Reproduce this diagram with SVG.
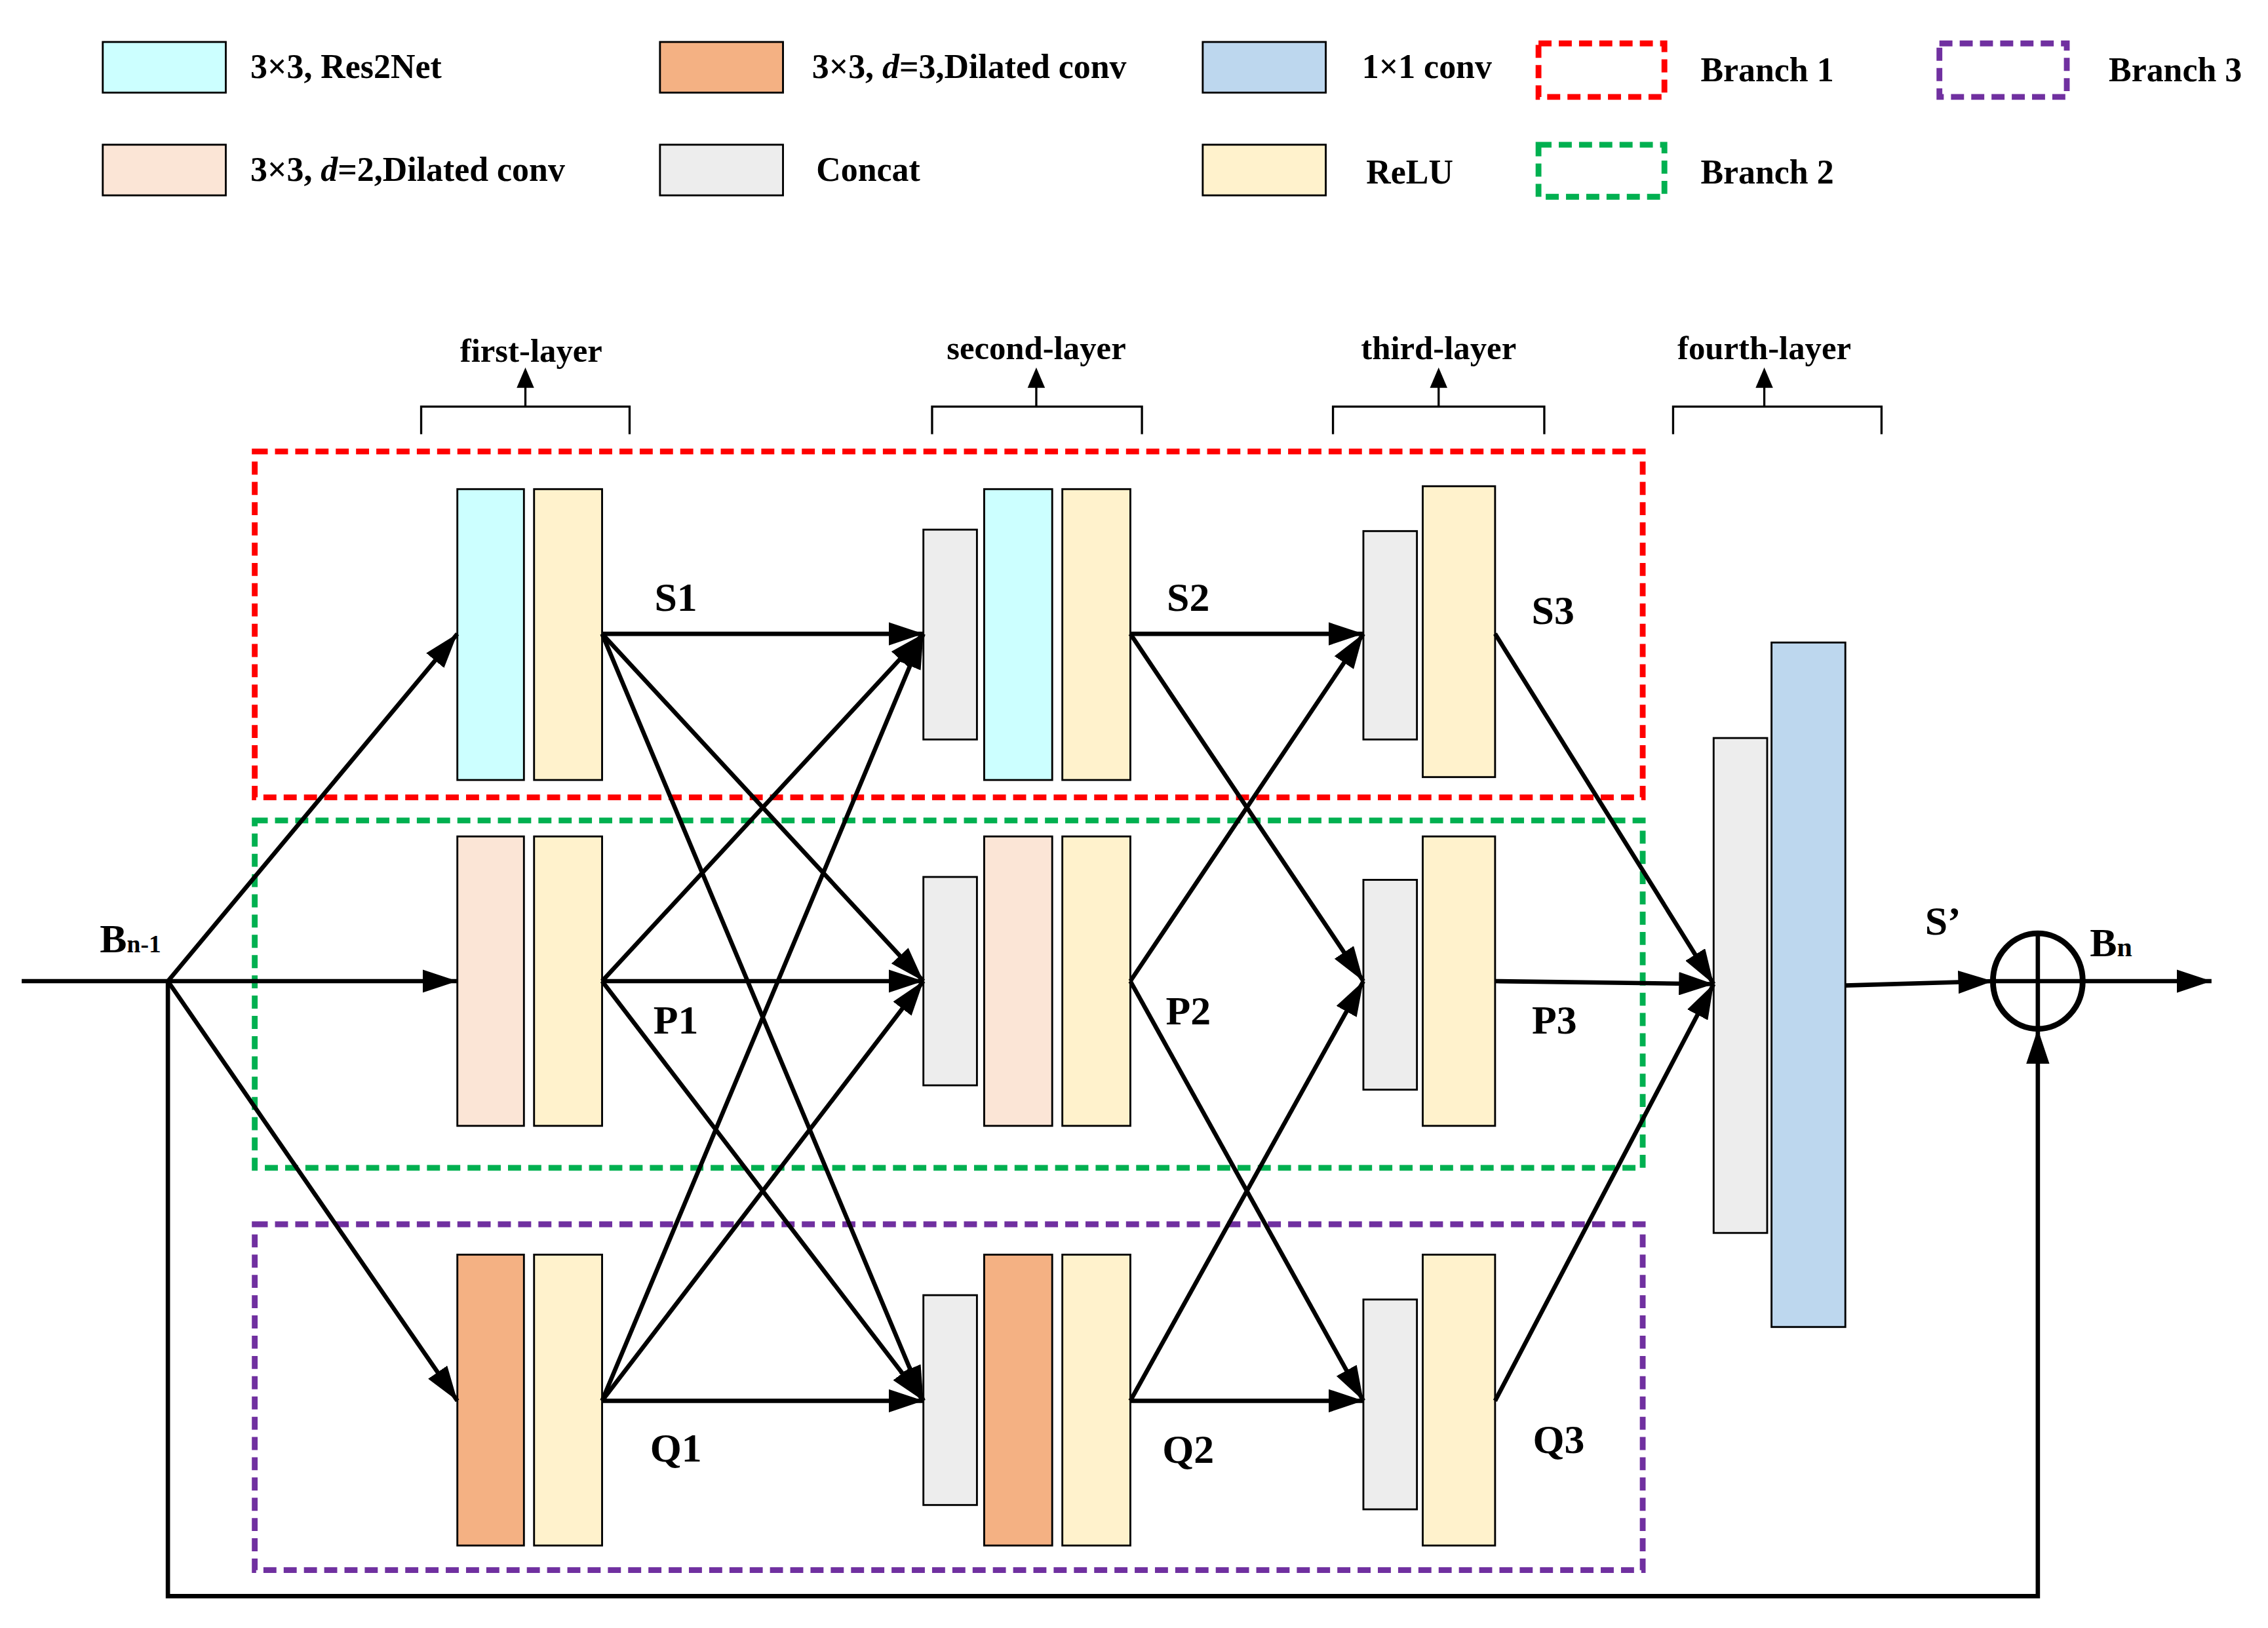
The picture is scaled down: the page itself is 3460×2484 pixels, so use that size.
<svg xmlns="http://www.w3.org/2000/svg" width="3460" height="2484" viewBox="0 0 3460 2484">
<style>
text{font-family:"Liberation Serif",serif;font-weight:bold;fill:#000}
.lg{font-size:23.5px}
.lb{font-size:28px}
.ly{font-size:23px}
.b{stroke:#000;stroke-width:1.3}
.cy{fill:#CCFFFF}.pe{fill:#FBE5D6}.or{fill:#F4B183}.gr{fill:#EDEDED}.re{fill:#FFF2CC}.bl{fill:#BDD7EE}
.dr{fill:none;stroke:#FF0000;stroke-width:4;stroke-dasharray:9 5}
.dg{fill:none;stroke:#00B050;stroke-width:4;stroke-dasharray:9 5}
.dp{fill:none;stroke:#7030A0;stroke-width:4;stroke-dasharray:9 5}
.c{fill:none;stroke:#000;stroke-width:3;marker-end:url(#ah)}
.n{fill:none;stroke:#000;stroke-width:3}
.k{fill:none;stroke:#000;stroke-width:1.5}
</style>
<defs>
<marker id="ah" markerUnits="userSpaceOnUse" markerWidth="26" markerHeight="16" refX="24" refY="8" orient="auto">
<path d="M0,0 L24,8 L0,16 Z" fill="#000"/>
</marker>
</defs>
<rect width="3460" height="2484" fill="#fff"/>
<g transform="scale(2.208,2.208)">
<g id="legend">
<rect class="b cy" x="71" y="29" width="85" height="35"/><text class="lg" x="173" y="54">3×3, Res2Net</text>
<rect class="b or" x="456" y="29" width="85" height="35"/><text class="lg" x="561" y="54">3×3, <tspan font-style="italic">d</tspan>=3,Dilated conv</text>
<rect class="b bl" x="831" y="29" width="85" height="35"/><text class="lg" x="941" y="54">1×1 conv</text>
<rect class="dr" x="1063" y="30" width="87" height="37"/><text class="lg" x="1175" y="56">Branch 1</text>
<rect class="dp" x="1340" y="30" width="88" height="37"/><text class="lg" x="1457" y="56">Branch 3</text>
<rect class="b pe" x="71" y="100" width="85" height="35"/><text class="lg" x="173" y="125">3×3, <tspan font-style="italic">d</tspan>=2,Dilated conv</text>
<rect class="b gr" x="456" y="100" width="85" height="35"/><text class="lg" x="564" y="125">Concat</text>
<rect class="b re" x="831" y="100" width="85" height="35"/><text class="lg" x="944" y="127">ReLU</text>
<rect class="dg" x="1063" y="100" width="87" height="36"/><text class="lg" x="1175" y="127">Branch 2</text>
</g>
<g id="layer-labels">
<text class="ly" x="367" y="250" text-anchor="middle">first-layer</text>
<text class="ly" x="716" y="248" text-anchor="middle">second-layer</text>
<text class="ly" x="994" y="248" text-anchor="middle">third-layer</text>
<text class="ly" x="1219" y="248" text-anchor="middle">fourth-layer</text>
<path class="k" d="M291,300 V281 H435 V300 M644,300 V281 H789 V300 M921,300 V281 H1067 V300 M1156,300 V281 H1300 V300"/>
<g fill="#000">
<path d="M363,281 V264" stroke="#000" stroke-width="1.5"/><path d="M357,268 L363,254 L369,268 Z"/>
<path d="M716,281 V264" stroke="#000" stroke-width="1.5"/><path d="M710,268 L716,254 L722,268 Z"/>
<path d="M994,281 V264" stroke="#000" stroke-width="1.5"/><path d="M988,268 L994,254 L1000,268 Z"/>
<path d="M1219,281 V264" stroke="#000" stroke-width="1.5"/><path d="M1213,268 L1219,254 L1225,268 Z"/>
</g>
</g>
<g id="branch1"><rect class="dr" x="176" y="312" width="959" height="239"/></g>
<g id="branch2"><rect class="dg" x="176" y="567" width="959" height="240"/></g>
<g id="branch3"><rect class="dp" x="176" y="846" width="959" height="239"/></g>
<g id="L1-S"><rect class="b cy" x="316" y="338" width="46" height="201"/><rect class="b re" x="369" y="338" width="47" height="201"/></g>
<g id="L1-P"><rect class="b pe" x="316" y="578" width="46" height="200"/><rect class="b re" x="369" y="578" width="47" height="200"/></g>
<g id="L1-Q"><rect class="b or" x="316" y="867" width="46" height="201"/><rect class="b re" x="369" y="867" width="47" height="201"/></g>
<g id="L2-S"><rect class="b gr" x="638" y="366" width="37" height="145"/><rect class="b cy" x="680" y="338" width="47" height="201"/><rect class="b re" x="734" y="338" width="47" height="201"/></g>
<g id="L2-P"><rect class="b gr" x="638" y="606" width="37" height="144"/><rect class="b pe" x="680" y="578" width="47" height="200"/><rect class="b re" x="734" y="578" width="47" height="200"/></g>
<g id="L2-Q"><rect class="b gr" x="638" y="895" width="37" height="145"/><rect class="b or" x="680" y="867" width="47" height="201"/><rect class="b re" x="734" y="867" width="47" height="201"/></g>
<g id="L3-S"><rect class="b gr" x="942" y="367" width="37" height="144"/><rect class="b re" x="983" y="336" width="50" height="201"/></g>
<g id="L3-P"><rect class="b gr" x="942" y="608" width="37" height="145"/><rect class="b re" x="983" y="578" width="50" height="200"/></g>
<g id="L3-Q"><rect class="b gr" x="942" y="898" width="37" height="145"/><rect class="b re" x="983" y="867" width="50" height="201"/></g>
<g id="L4"><rect class="b gr" x="1184" y="510" width="37" height="342"/><rect class="b bl" x="1224" y="444" width="51" height="473"/></g>
<g id="sum"><ellipse cx="1408" cy="678" rx="31" ry="33" fill="#fff" stroke="#000" stroke-width="4"/><path d="M1377,678 H1439 M1408,645 V711" stroke="#000" stroke-width="3"/></g>
<g id="connectors">
<path class="n" d="M15,678 H116"/>
<path class="c" d="M116,678 L316,438"/>
<path class="c" d="M116,678 L316,678"/>
<path class="c" d="M116,678 L316,968"/>
<path class="c" d="M116,678 V1103 H1408 V711"/>
<path class="c" d="M416,438 L638,438"/><path class="c" d="M416,438 L638,678"/><path class="c" d="M416,438 L638,968"/>
<path class="c" d="M416,678 L638,438"/><path class="c" d="M416,678 L638,678"/><path class="c" d="M416,678 L638,968"/>
<path class="c" d="M416,968 L638,438"/><path class="c" d="M416,968 L638,678"/><path class="c" d="M416,968 L638,968"/>
<path class="c" d="M781,438 L942,438"/><path class="c" d="M781,438 L942,678"/>
<path class="c" d="M781,678 L942,438"/><path class="c" d="M781,678 L942,968"/>
<path class="c" d="M781,968 L942,678"/><path class="c" d="M781,968 L942,968"/>
<path class="c" d="M1033,438 L1184,680"/><path class="c" d="M1033,678 L1184,680"/><path class="c" d="M1033,968 L1184,680"/>
<path class="c" d="M1275,681 L1377,678"/>
<path class="c" d="M1439,678 L1528,678"/>
</g>
<g id="labels">
<text class="lb" x="467" y="422" text-anchor="middle">S1</text>
<text class="lb" x="821" y="422" text-anchor="middle">S2</text>
<text class="lb" x="1073" y="431" text-anchor="middle">S3</text>
<text class="lb" x="467" y="714" text-anchor="middle">P1</text>
<text class="lb" x="821" y="708" text-anchor="middle">P2</text>
<text class="lb" x="1074" y="714" text-anchor="middle">P3</text>
<text class="lb" x="467" y="1010" text-anchor="middle">Q1</text>
<text class="lb" x="821" y="1011" text-anchor="middle">Q2</text>
<text class="lb" x="1077" y="1004" text-anchor="middle">Q3</text>
<text class="lb" x="69" y="658">B<tspan font-size="17">n-1</tspan></text>
<text class="lb" x="1330" y="646">S’</text>
<text class="lb" x="1444" y="661">B<tspan font-size="19">n</tspan></text>
</g>
</g>
</svg>
